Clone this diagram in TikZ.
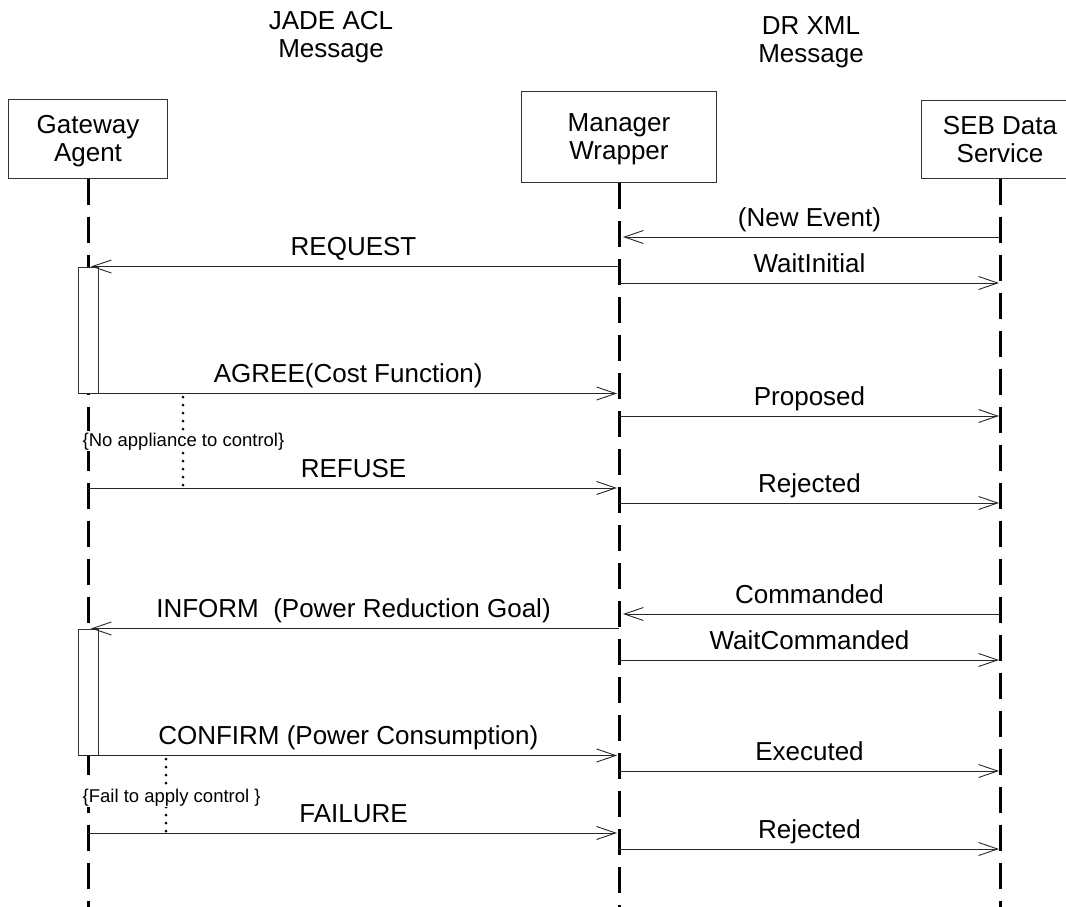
\documentclass[tikz,border=0pt]{standalone}
\usepackage{fontspec}
\setmainfont{Liberation Sans}
\usetikzlibrary{arrows.meta}
\begin{document}
\begin{tikzpicture}[x=1pt,y=-1pt,
  actor/.style={draw=black!80, line width=1pt, fill=white, align=center,
    font=\fontsize{26}{28}\selectfont, inner sep=0pt, text depth=0pt},
  hdr/.style={align=center, font=\fontsize{26}{28.5}\selectfont, inner sep=0pt, anchor=north},
  lifeline/.style={line width=3pt, dash pattern=on 26pt off 12pt},
  msg/.style={draw=black!85, line width=0.9pt,
    -{Straight Barb[length=19pt,width=13pt,line width=0.9pt]}},
  lbl/.style={midway, anchor=base, yshift=11pt, font=\fontsize{26}{28}\selectfont, inner sep=0pt},
  note/.style={font=\fontsize{18.5}{20}\selectfont, fill=white, inner sep=1.5pt, anchor=base west},
  dots/.style={line width=3pt, line cap=round, dash pattern=on 0pt off 8pt},
  act/.style={draw=black!80, fill=white, line width=1pt, minimum width=20pt, inner sep=0pt}]
\useasboundingbox (0,0) rectangle (1066,907);

% headers
\node[hdr] (jade) at (331,11) {JADE ACL\\Message};
\node[hdr] (drxml) at (811,16) {DR XML\\Message};

% actors
\node[actor, minimum width=159pt, minimum height=79pt] (ga) at (88,138.5) {Gateway\\Agent};
\node[actor, minimum width=195pt, minimum height=91pt] (mw) at (619,137) {Manager\\Wrapper};
\node[actor, minimum width=158pt, minimum height=78pt] (seb) at (1000,139) {SEB Data\\Service};

% lifeline ends
\coordinate (gaend) at (88,907);
\coordinate (mwend) at (619,907);
\coordinate (sebend) at (1000,907);
\draw[lifeline] (ga.south) -- (gaend);
\draw[lifeline] (mw.south) -- (mwend);
\draw[lifeline] (seb.south) -- (sebend);

% activation boxes
\node[act, minimum height=126pt] (act1) at (88,330) {};
\node[act, minimum height=126pt] (act2) at (88,692) {};

% message rows
\coordinate (r1) at (0,237);
\coordinate (r3) at (0,283);
\coordinate (r5) at (0,416);
\coordinate (r6) at (0,488);
\coordinate (r7) at (0,503);
\coordinate (r8) at (0,614);
\coordinate (r10) at (0,660);
\coordinate (r12) at (0,771);
\coordinate (r13) at (0,833);
\coordinate (r14) at (0,849);

\draw[msg, shorten >=4pt] (seb |- r1) -- (mw |- r1) node[lbl] {(New Event)};
\draw[msg, shorten >=3pt] (mw |- act1.north) -- (act1.north) node[lbl] {REQUEST};
\draw[msg, shorten >=1pt] (mw |- r3) -- (seb |- r3) node[lbl] {WaitInitial};
\draw[msg, shorten >=2pt] (act1.south west) -- (mw |- act1.south) node[lbl] {AGREE(Cost Function)};
\draw[msg, shorten >=1pt] (mw |- r5) -- (seb |- r5) node[lbl] {Proposed};
\draw[msg, shorten >=2pt] (ga |- r6) -- (mw |- r6) node[lbl] {REFUSE};
\draw[msg, shorten >=1pt] (mw |- r7) -- (seb |- r7) node[lbl] {Rejected};
\draw[msg, shorten >=4pt] (seb |- r8) -- (mw |- r8) node[lbl] {Commanded};
\draw[msg, shorten >=3pt] (mw |- act2.north) -- (act2.north) node[lbl] {INFORM\ \ (Power Reduction Goal)};
\draw[msg, shorten >=1pt] (mw |- r10) -- (seb |- r10) node[lbl] {WaitCommanded};
\draw[msg, shorten >=2pt] (act2.south west) -- (mw |- act2.south) node[lbl] {CONFIRM (Power Consumption)};
\draw[msg, shorten >=1pt] (mw |- r12) -- (seb |- r12) node[lbl] {Executed};
\draw[msg, shorten >=2pt] (ga |- r13) -- (mw |- r13) node[lbl] {FAILURE};
\draw[msg, shorten >=1pt] (mw |- r14) -- (seb |- r14) node[lbl] {Rejected};

% notes
\coordinate (d1a) at (183,397);
\coordinate (d1b) at (183,487);
\draw[dots] (d1a) -- (d1b);
\node[note] (n1) at (81,446) {\{No appliance to control\}};
\coordinate (d2a) at (166,759);
\coordinate (d2b) at (166,832);
\draw[dots] (d2a) -- (d2b);
\node[note] (n2) at (81,802) {\{Fail to apply control \}};
\end{tikzpicture}
\end{document}
